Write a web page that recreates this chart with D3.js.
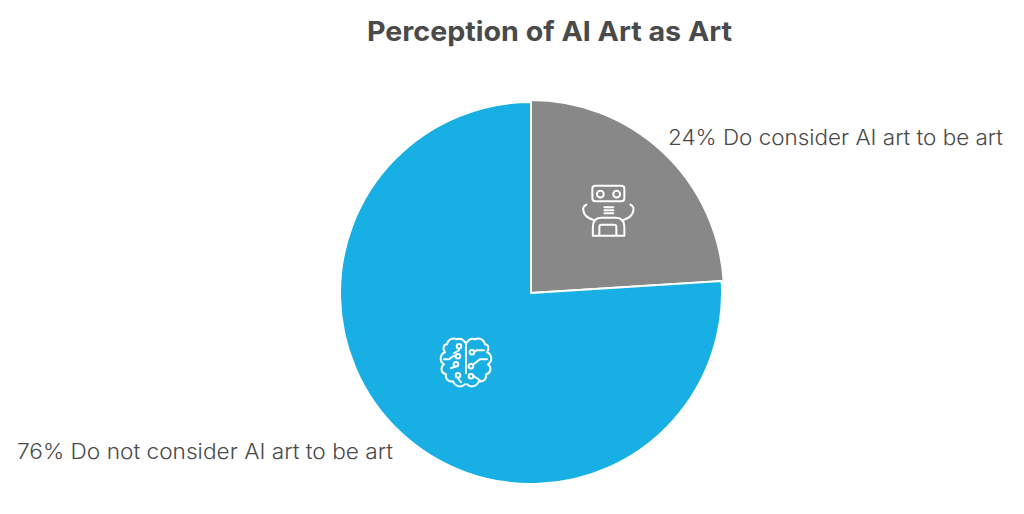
<!DOCTYPE html>
<html>
<head>
<meta charset="utf-8">
<script src="https://cdn.jsdelivr.net/npm/d3@7"></script>
<style>
    html, body { margin: 0; padding: 0; background: #fff; }
    svg { display: block; }
    text { font-family: Inter, "Open Sans", sans-serif; fill: #4a4a4a; }
</style>
</head>
<body>
<div id="chart_area"></div>
<script>
// chart values
var categories = ["Do consider AI art to be art", "Do not consider AI art to be art"];
var shares = [24, 76];
var sliceColors = ["#888888", "#17afe4"];

var width = 1024, height = 514;
var cx = 531, cy = 293;
var outerRadius = [193, 191];
var iconRadius = [113, 95];
var iconShift = [[1, -1], [0, 3]];
var labelPos = [
    { x: 668, y: 145, w: 335 },
    { x: 17, y: 459, w: 376 }
];

var svg = d3.select("#chart_area")
    .append("svg")
    .attr("width", width)
    .attr("height", height);

svg.append("text")
    .attr("x", 367)
    .attr("y", 41)
    .attr("textLength", 365)
    .attr("lengthAdjust", "spacingAndGlyphs")
    .style("font-size", "27px")
    .style("font-weight", 700)
    .text("Perception of AI Art as Art");

var pie = d3.pie().sort(null)(shares);
var arc = d3.arc().innerRadius(0);

var g = svg.append("g")
    .attr("transform", "translate(" + cx + "," + cy + ")");

// slices
g.selectAll("path.slice")
    .data(pie)
    .enter()
    .append("path")
    .attr("class", "slice")
    .attr("d", function (d, i) { return arc.outerRadius(outerRadius[i])(d); })
    .attr("fill", function (d, i) { return sliceColors[i]; })
    .attr("stroke", "#fff")
    .attr("stroke-width", 2)
    .attr("stroke-linejoin", "round");

// labels
svg.selectAll("text.label")
    .data(pie)
    .enter()
    .append("text")
    .attr("class", "label")
    .attr("x", function (d, i) { return labelPos[i].x; })
    .attr("y", function (d, i) { return labelPos[i].y; })
    .attr("textLength", function (d, i) { return labelPos[i].w; })
    .attr("lengthAdjust", "spacingAndGlyphs")
    .style("font-size", "21.5px")
    .style("font-weight", 300)
    .text(function (d, i) { return d.value + "% " + categories[i]; });

// icon anchor points sit on the slice's mid angle
function iconAnchor(d, i) {
    var a = (d.startAngle + d.endAngle) / 2;
    return "translate(" + (Math.sin(a) * iconRadius[i] + iconShift[i][0]) + "," +
        (-Math.cos(a) * iconRadius[i] + iconShift[i][1]) + ")";
}

var icons = g.selectAll("g.icon")
    .data(pie)
    .enter()
    .append("g")
    .attr("class", "icon")
    .attr("transform", iconAnchor)
    .attr("fill", "none")
    .attr("stroke", "#fff")
    .attr("stroke-width", 2)
    .attr("stroke-linecap", "round")
    .attr("stroke-linejoin", "round");

// robot
var robot = d3.select(icons.nodes()[0]);
robot.append("rect").attr("x", -17).attr("y", -24).attr("width", 32).attr("height", 15.5).attr("rx", 3);
robot.append("circle").attr("cx", -9).attr("cy", -15.5).attr("r", 3.4);
robot.append("circle").attr("cx", 7.3).attr("cy", -15.5).attr("r", 3.4);
robot.append("path").attr("d", "M-5,-2.5H4M-5,0.5H4M-5,3.5H4");
robot.append("path").attr("d", "M-16.5,26V17Q-16.5,8 -8,8H6.5Q15,8 15,17V26Z");
robot.append("path").attr("d", "M-10,25V17Q-10,15 -8,15H5Q7,15 7,17V25");
robot.append("path").attr("d", "M-23,-5Q-27,-3 -26,1C-25,7 -20,9 -14.5,11");
robot.append("path").attr("d", "M21,-5Q25,-3 24,1C23,7 18,9 12.5,11");

// brain
var brain = d3.select(icons.nodes()[1]);
brain.append("path").attr("d", "M0,-23V8");
brain.append("path").attr("d",
    "M-1,-23C-3,-26 -6,-27 -9,-26C-13,-28 -18,-26 -19,-21C-22,-21 -24,-17 -21,-13" +
    "C-26,-11 -27,-4 -22,-1C-26,2 -25,8 -20,9C-21,14 -17,17 -13,16" +
    "C-11,21 -5,23 -1,19");
brain.append("path").attr("d",
    "M1,-23C3,-26 6,-27 9,-26C13,-28 18,-26 19,-21C22,-21 24,-17 21,-13" +
    "C26,-11 27,-4 22,-1C26,2 25,8 20,9C21,14 17,17 13,16" +
    "C11,21 5,23 1,19");
// circuit traces, left then right
brain.append("path").attr("d",
    "M-7,-19V-15L-12,-12" +
    "M-9,-9H-13L-17,-6H-22" +
    "M-10,-1V1L-15,3" +
    "M-8,10V13L-5,17");
brain.append("path").attr("d",
    "M7,-13L11,-15H18" +
    "M5,1L14,-6H21" +
    "M5,11H8L14,15");
var brainDots = [[-7, -19], [-8, -9], [-10, -1], [-8, 10], [6, -13], [5, 1], [5, 11]];
brain.selectAll("circle")
    .data(brainDots)
    .enter()
    .append("circle")
    .attr("cx", function (d) { return d[0]; })
    .attr("cy", function (d) { return d[1]; })
    .attr("r", 2.3)
    .attr("fill", sliceColors[1]);
</script>
</body>
</html>
